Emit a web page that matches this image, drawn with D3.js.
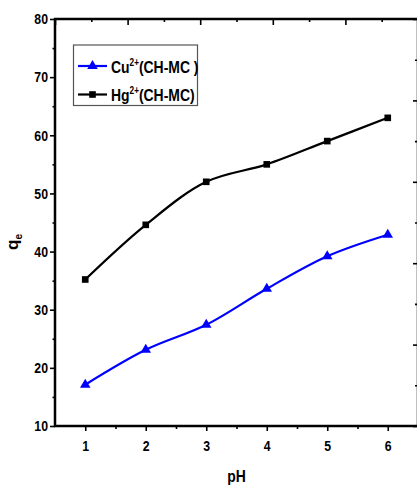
<!DOCTYPE html>
<html>
<head>
<meta charset="utf-8">
<script src="https://cdn.jsdelivr.net/npm/d3@7"></script>
<style>
  body { margin: 0; background: #fff; }
  svg { display: block; }
  text { font-family: "Liberation Sans", Arial, sans-serif; font-weight: bold; fill: #000; }
  .tick line { stroke: #000; stroke-width: 1.6; }
  .domain { display: none; }
</style>
</head>
<body>
<div id="chart"></div>
<script>
// pH effect on adsorption capacity (qe) for Cu2+ and Hg2+ on CH-MC
const phValues = [1, 2, 3, 4, 5, 6];
const cuValues = [17.1, 23.1, 27.4, 33.6, 39.2, 42.9];
const hgValues = [35.2, 44.6, 52.0, 55.0, 59.0, 63.0];
const yTicks = [10, 20, 30, 40, 50, 60, 70, 80];
const xTicks = [1, 2, 3, 4, 5, 6];

const width = 417, height = 486;
const plot = { left: 55, right: 418, top: 19, bottom: 426 };
const narrowScale = 0.82; // no Arial Narrow installed, squeeze Liberation Sans instead

const svg = d3.select('#chart').append('svg')
    .attr('width', width)
    .attr('height', height);

// squeeze text horizontally around its own anchor point
function narrow(sel) {
    sel.each(function () {
        const t = d3.select(this);
        const tx = +t.attr('x') || 0;
        const ty = +t.attr('y') || 0;
        t.attr('x', 0).attr('y', 0)
            .attr('transform', `translate(${tx},${ty}) scale(${narrowScale},1)`);
    });
}

const x = d3.scaleLinear().domain([0.5, 6.5]).range([plot.left, plot.right]);
const y = d3.scaleLinear().domain([10, 80]).range([plot.bottom, plot.top]);

// top / right axes are unlabelled and use their own tick spacing
const xTop = d3.scaleLinear().domain([0, 5]).range([plot.left, plot.right]);
const yRight = d3.scaleLinear().domain([0, 5]).range([plot.bottom, plot.top]);
const halfSteps = d3.range(0.5, 5, 1);

// left axis
svg.append('g')
    .attr('transform', `translate(${plot.left},0)`)
    .call(d3.axisLeft(y).tickValues(yTicks).tickSize(5).tickPadding(2).tickFormat(d3.format('d')))
    .call(g => g.selectAll('text').style('font-size', '15px').call(narrow));
svg.append('g')
    .attr('transform', `translate(${plot.left},0)`)
    .call(d3.axisLeft(y).tickValues(d3.range(15, 80, 10)).tickSize(2.5).tickFormat(''));

// bottom axis
svg.append('g')
    .attr('transform', `translate(0,${plot.bottom})`)
    .call(d3.axisBottom(x).tickValues(xTicks).tickSize(5).tickPadding(9).tickFormat(d3.format('d')))
    .call(g => g.selectAll('text').style('font-size', '15px').call(narrow));
svg.append('g')
    .attr('transform', `translate(0,${plot.bottom})`)
    .call(d3.axisBottom(x).tickValues(d3.range(1.5, 6.5, 1)).tickSize(3).tickFormat(''));

// top axis, inward ticks
svg.append('g')
    .attr('transform', `translate(0,${plot.top})`)
    .call(d3.axisTop(xTop).tickValues(d3.range(0, 6)).tickSize(-6).tickFormat(''));
svg.append('g')
    .attr('transform', `translate(0,${plot.top})`)
    .call(d3.axisTop(xTop).tickValues(halfSteps).tickSize(-3).tickFormat(''));

// right axis, inward ticks
svg.append('g')
    .attr('transform', `translate(${plot.right},0)`)
    .call(d3.axisRight(yRight).tickValues(d3.range(0, 6)).tickSize(-5).tickFormat(''));
svg.append('g')
    .attr('transform', `translate(${plot.right},0)`)
    .call(d3.axisRight(yRight).tickValues(halfSteps).tickSize(-3).tickFormat(''));

// frame
svg.append('rect')
    .attr('x', plot.left)
    .attr('y', plot.top)
    .attr('width', plot.right - plot.left)
    .attr('height', plot.bottom - plot.top)
    .attr('fill', 'none')
    .attr('stroke', '#000')
    .attr('stroke-width', 2.5);

// axis titles
svg.append('text')
    .attr('x', (plot.left + plot.right) / 2)
    .attr('y', 482)
    .attr('text-anchor', 'middle')
    .style('font-size', '17px')
    .text('pH')
    .call(narrow);

const yTitle = svg.append('text')
    .attr('transform', 'translate(18,242) rotate(-90)')
    .attr('text-anchor', 'middle')
    .style('font-size', '17px');
yTitle.append('tspan').text('q');
yTitle.append('tspan').attr('dy', 4).style('font-size', '10px').text('e');

// series
const series = [
    { name: 'Cu', label: '(CH-MC )', values: cuValues, color: '#0000ff', symbol: d3.symbolTriangle, size: 48 },
    { name: 'Hg', label: '(CH-MC)', values: hgValues, color: '#000000', symbol: d3.symbolSquare, size: 44 }
];

const line = d3.line()
    .x((d, i) => x(phValues[i]))
    .y(d => y(d))
    .curve(d3.curveCatmullRom.alpha(0.5));

series.forEach(s => {
    svg.append('path')
        .attr('d', line(s.values))
        .attr('fill', 'none')
        .attr('stroke', s.color)
        .attr('stroke-width', 2.2);

    svg.selectAll(null)
        .data(s.values)
        .enter().append('path')
        .attr('transform', (d, i) => `translate(${x(phValues[i])},${y(d)})`)
        .attr('d', d3.symbol().type(s.symbol).size(s.size))
        .attr('fill', s.color);
});

// legend
const legend = svg.append('g');
legend.append('rect')
    .attr('x', 73.5)
    .attr('y', 45)
    .attr('width', 124)
    .attr('height', 60.5)
    .attr('fill', '#fff')
    .attr('stroke', '#555')
    .attr('stroke-width', 1.2);

series.forEach((s, i) => {
    const ly = 66 + i * 28.5;
    legend.append('line')
        .attr('x1', 78).attr('x2', 107)
        .attr('y1', ly).attr('y2', ly)
        .attr('stroke', s.color)
        .attr('stroke-width', 2.2);
    legend.append('path')
        .attr('transform', `translate(92.5,${ly})`)
        .attr('d', d3.symbol().type(s.symbol).size(s.size))
        .attr('fill', s.color);
    const t = legend.append('text')
        .attr('x', 111)
        .attr('y', ly + 6.5)
        .style('font-size', '17px');
    t.append('tspan').text(s.name);
    t.append('tspan').attr('dy', -7).style('font-size', '10px').text('2+');
    t.append('tspan').attr('dy', 7).text(s.label);
    t.call(narrow);
});
</script>
</body>
</html>
